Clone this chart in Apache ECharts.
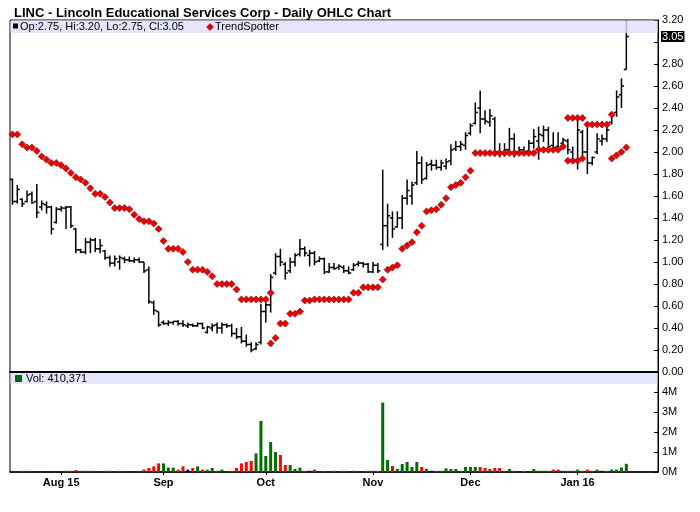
<!DOCTYPE html>
<html><head><meta charset="utf-8">
<script src="https://cdn.jsdelivr.net/npm/echarts@6/dist/echarts.min.js"></script>
<style>html,body{margin:0;padding:0;background:#fff}#c{width:700px;height:512px}</style>
</head><body><div id="c"></div>
<script>
const dates = [
'2015-07-20','2015-07-21','2015-07-22','2015-07-23','2015-07-24','2015-07-27','2015-07-28','2015-07-29','2015-07-30','2015-07-31',
'2015-08-03','2015-08-04','2015-08-05','2015-08-06','2015-08-07','2015-08-10','2015-08-11','2015-08-12','2015-08-13','2015-08-14','2015-08-17','2015-08-18','2015-08-19','2015-08-20','2015-08-21','2015-08-24','2015-08-25','2015-08-26','2015-08-27','2015-08-28','2015-08-31',
'2015-09-01','2015-09-02','2015-09-03','2015-09-04','2015-09-08','2015-09-09','2015-09-10','2015-09-11','2015-09-14','2015-09-15','2015-09-16','2015-09-17','2015-09-18','2015-09-21','2015-09-22','2015-09-23','2015-09-24','2015-09-25','2015-09-28','2015-09-29','2015-09-30',
'2015-10-01','2015-10-02','2015-10-05','2015-10-06','2015-10-07','2015-10-08','2015-10-09','2015-10-12','2015-10-13','2015-10-14','2015-10-15','2015-10-16','2015-10-19','2015-10-20','2015-10-21','2015-10-22','2015-10-23','2015-10-26','2015-10-27','2015-10-28','2015-10-29','2015-10-30',
'2015-11-02','2015-11-03','2015-11-04','2015-11-05','2015-11-06','2015-11-09','2015-11-10','2015-11-11','2015-11-12','2015-11-13','2015-11-16','2015-11-17','2015-11-18','2015-11-19','2015-11-20','2015-11-23','2015-11-24','2015-11-25','2015-11-27','2015-11-30',
'2015-12-01','2015-12-02','2015-12-03','2015-12-04','2015-12-07','2015-12-08','2015-12-09','2015-12-10','2015-12-11','2015-12-14','2015-12-15','2015-12-16','2015-12-17','2015-12-18','2015-12-21','2015-12-22','2015-12-23','2015-12-24','2015-12-28','2015-12-29','2015-12-30','2015-12-31',
'2016-01-04','2016-01-05','2016-01-06','2016-01-07','2016-01-08','2016-01-11','2016-01-12','2016-01-13','2016-01-14','2016-01-15','2016-01-19'];
const padDates = ['2016-01-20','2016-01-21','2016-01-22','2016-01-25','2016-01-26','2016-01-27'];

const opens = [
1.75,1.55,1.57,1.55,1.62,1.55,1.50,1.52,1.50,1.36,
1.48,1.49,1.50,1.30,1.11,1.09,1.18,1.20,1.12,1.10,
1.04,0.99,1.00,1.03,1.02,1.01,1.02,1.00,0.93,0.63,
0.55,0.45,0.44,0.45,0.46,0.44,0.42,0.43,0.42,0.44,
0.36,0.40,0.43,0.40,0.43,0.42,0.35,0.32,0.28,0.25,
0.21,0.27,0.55,0.61,0.90,1.05,0.98,0.92,1.00,1.07,
1.12,1.06,1.08,1.01,1.03,0.91,0.95,0.95,0.95,0.92,
0.93,0.98,0.99,0.98,0.91,0.97,1.16,1.33,1.40,1.32,
1.40,1.58,1.60,1.72,1.90,1.76,1.89,1.88,1.86,1.87,
1.92,2.03,2.05,2.06,2.17,2.26,2.40,2.30,2.27,2.30,
2.00,1.99,2.02,2.12,2.00,2.02,2.01,2.08,2.10,2.15,
2.20,2.06,2.05,2.08,2.10,2.00,1.92,2.18,2.00,1.90,
2.00,2.10,2.12,2.27,2.36,2.52,2.75];
const highs = [
1.76,1.70,1.58,1.65,1.64,1.71,1.56,1.55,1.51,1.50,
1.51,1.51,1.51,1.31,1.12,1.22,1.22,1.22,1.21,1.11,
1.06,1.06,1.06,1.05,1.05,1.04,1.04,1.00,0.96,0.65,
0.55,0.47,0.47,0.46,0.47,0.47,0.45,0.44,0.45,0.45,
0.42,0.44,0.45,0.45,0.44,0.44,0.40,0.41,0.34,0.27,
0.27,0.62,0.63,0.89,1.08,1.12,1.00,1.04,1.08,1.21,
1.14,1.11,1.10,1.05,1.04,0.99,0.99,0.98,0.97,0.96,
0.99,1.01,1.00,0.99,1.00,0.99,1.84,1.53,1.46,1.46,
1.61,1.75,1.73,2.01,1.96,1.91,1.93,1.93,1.93,1.94,
2.07,2.10,2.10,2.18,2.26,2.45,2.56,2.38,2.39,2.32,
2.08,2.08,2.22,2.17,2.05,2.05,2.11,2.21,2.23,2.24,
2.23,2.18,2.18,2.13,2.12,2.05,2.32,2.20,2.22,1.96,
2.17,2.16,2.23,2.35,2.56,2.67,3.20];
const lows = [
1.52,1.53,1.50,1.54,1.53,1.40,1.47,1.44,1.25,1.35,
1.46,1.30,1.31,1.08,1.08,1.07,1.08,1.09,1.08,1.02,
0.96,0.96,0.93,0.99,1.00,0.99,0.99,0.90,0.62,0.52,
0.41,0.43,0.42,0.43,0.42,0.41,0.40,0.41,0.41,0.39,
0.35,0.37,0.35,0.35,0.40,0.32,0.30,0.26,0.23,0.18,
0.20,0.25,0.45,0.54,0.88,0.96,0.84,0.90,0.96,1.05,
1.05,0.96,0.97,1.00,0.89,0.90,0.93,0.93,0.90,0.89,
0.92,0.96,0.95,0.90,0.90,0.90,1.11,1.14,1.22,1.31,
1.30,1.52,1.52,1.70,1.71,1.75,1.83,1.84,1.83,1.84,
1.88,2.01,2.01,2.02,2.15,2.25,2.17,2.25,2.23,1.96,
1.95,1.96,2.00,1.95,1.97,1.98,2.00,2.03,1.93,2.09,
2.02,2.02,2.01,2.07,1.98,1.90,1.84,1.96,1.80,1.88,
1.98,2.06,2.09,2.25,2.32,2.40,2.75];
const closes = [
1.55,1.66,1.53,1.61,1.54,1.45,1.53,1.50,1.30,1.48,
1.49,1.50,1.33,1.11,1.09,1.18,1.20,1.12,1.15,1.04,
0.99,1.03,1.04,1.02,1.01,1.02,1.00,0.92,0.64,0.56,
0.43,0.44,0.45,0.46,0.44,0.43,0.43,0.42,0.44,0.40,
0.41,0.42,0.40,0.43,0.42,0.35,0.32,0.28,0.25,0.20,
0.25,0.55,0.61,0.86,1.05,1.00,0.90,1.00,1.06,1.12,
1.08,1.08,1.00,1.03,0.91,0.95,0.94,0.96,0.92,0.90,
0.97,0.99,0.98,0.91,0.97,0.92,1.33,1.42,1.30,1.40,
1.58,1.65,1.70,1.90,1.75,1.88,1.88,1.86,1.90,1.91,
2.02,2.05,2.07,2.15,2.24,2.36,2.30,2.28,2.33,2.00,
1.98,2.02,2.12,2.00,2.02,2.00,2.08,2.14,2.16,2.20,
2.05,2.04,2.03,2.11,2.02,1.92,2.20,2.00,1.90,1.95,
2.12,2.12,2.20,2.33,2.50,2.60,3.05];
// volume, millions of shares
const volumes = [
0.015,0.015,0.06,0.06,0.015,0.015,0.015,0.015,0.015,0.015,
0.015,0.06,0.06,0.10,0.06,0.06,0.06,0.015,0.015,0.06,
0.06,0.015,0.06,0.015,0.015,0.015,0.015,0.12,0.20,0.28,
0.43,0.43,0.22,0.22,0.12,0.28,0.12,0.20,0.28,0.12,
0.12,0.20,0.06,0.12,0.015,0.06,0.20,0.43,0.50,0.55,
0.93,2.55,0.80,1.50,1.00,0.85,0.35,0.35,0.15,0.22,
0.06,0.06,0.12,0.015,0.06,0.015,0.06,0.015,0.06,0.015,
0.06,0.015,0.015,0.06,0.06,0.06,3.47,0.60,0.30,0.15,
0.40,0.50,0.25,0.50,0.25,0.15,0.06,0.06,0.06,0.18,
0.15,0.15,0.06,0.25,0.25,0.25,0.25,0.20,0.15,0.20,
0.20,0.06,0.15,0.06,0.015,0.06,0.015,0.15,0.06,0.06,
0.06,0.12,0.12,0.06,0.06,0.06,0.12,0.06,0.12,0.06,
0.12,0.06,0.06,0.12,0.12,0.22,0.410371];
const trendSpotter = [
2.16,2.16,2.07,2.04,2.04,2.01,1.96,1.93,1.90,1.90,
1.88,1.85,1.81,1.77,1.75,1.72,1.67,1.62,1.62,1.59,
1.54,1.49,1.49,1.49,1.48,1.43,1.39,1.37,1.37,1.35,
1.30,1.19,1.12,1.12,1.12,1.09,1.00,0.93,0.93,0.93,
0.91,0.87,0.80,0.80,0.80,0.80,0.75,0.66,0.66,0.66,
0.66,0.66,0.66,0.72,0.31,0.44,0.44,0.53,0.53,0.55,
0.65,0.65,0.66,0.66,0.66,0.66,0.66,0.66,0.66,0.66,
0.72,0.72,0.77,0.77,0.77,0.77,0.84,0.93,0.95,0.97,
1.12,1.15,1.18,1.27,1.33,1.46,1.47,1.48,1.52,1.58,
1.68,1.70,1.72,1.77,1.83,1.99,1.99,1.99,1.99,1.99,
1.99,1.99,1.99,1.99,1.99,1.99,1.99,1.99,2.02,2.02,
2.02,2.02,2.02,2.05,2.31,2.31,2.31,2.31,2.25,2.25,
2.25,2.25,2.25,2.34,1.97,2.00,2.04];
const trendAltDates = ['2015-10-02','2015-12-30','2015-12-31','2016-01-04','2016-01-05','2016-01-13'];
const trendAltValues = [0.26,1.92,1.92,1.92,1.94,1.94];
const tickDates = ['2015-08-03','2015-09-01','2015-10-01','2015-11-02','2015-12-01','2016-01-04'];
const tickLabels = ['Aug 15','Sep','Oct','Nov','Dec','Jan 16'];

const FONT = '"Liberation Sans", Arial, Helvetica, sans-serif';
const cats = dates.concat(padDates);
const n = dates.length;
const last = n - 1;
const lastClose = closes[last];
const tickIdx = tickDates.map(d => cats.indexOf(d));
const isTick = i => tickIdx.indexOf(i) >= 0;
const c100 = v => Math.round(v * 100);
function volColor(i) {
  if (i === 0) return '#006f00';
  const d = c100(closes[i]) - c100(closes[i - 1]);
  return d > 0 ? '#006f00' : (d < 0 ? '#ff0000' : '#000080');
}

const chart = echarts.init(document.getElementById('c'), null, {renderer: 'canvas'});
const ohlcData = dates.map((d, i) => [i, opens[i], highs[i], lows[i], closes[i]]);
const fmt = v => v.toFixed(2);
const legendText = 'Op:' + fmt(opens[last]) + ', Hi:' + fmt(highs[last]) + ', Lo:' + fmt(lows[last]) + ', Cl:' + fmt(closes[last]);
const volText = 'Vol: ' + Math.round(volumes[last] * 1e6).toLocaleString('en-US');

chart.setOption({
  animation: false,
  backgroundColor: '#fff',
  title: {
    text: 'LINC - Lincoln Educational Services Corp - Daily OHLC Chart',
    left: 9, top: 2,
    textStyle: {fontFamily: FONT, fontSize: 13, fontWeight: 'bold', color: '#000'}
  },
  grid: [
    {left: 10, right: 42, top: 20, height: 352, show: true, borderColor: '#000', borderWidth: 1},
    {left: 10, right: 42, top: 372, height: 100, show: true, borderColor: '#000', borderWidth: 1}
  ],
  xAxis: [
    {type: 'category', gridIndex: 0, data: cats, boundaryGap: true,
     axisLine: {show: true, lineStyle: {color: '#000', width: 2}},
     axisTick: {show: false}, axisLabel: {show: false}, splitLine: {show: false}},
    {type: 'category', gridIndex: 1, data: cats, boundaryGap: true,
     axisLine: {show: true, lineStyle: {color: '#000', width: 1.5}},
     axisTick: {show: true, alignWithLabel: true, length: 3, interval: (i) => isTick(i), lineStyle: {color: '#000'}},
     axisLabel: {interval: (i) => isTick(i), margin: 5,
       formatter: (v, i) => { const k = tickIdx.indexOf(i); return k >= 0 ? tickLabels[k] : ''; },
       fontFamily: FONT, fontSize: 11, fontWeight: 'bold', color: '#000'},
     splitLine: {show: false}}
  ],
  yAxis: [
    {type: 'value', gridIndex: 0, position: 'right', min: 0, max: 3.2, interval: 0.2,
     axisLine: {show: true, lineStyle: {color: '#000'}},
     axisTick: {show: true, inside: true, length: 4, lineStyle: {color: '#000'}},
     axisLabel: {margin: 4, fontFamily: FONT, fontSize: 11, color: '#000',
       formatter: v => Math.abs(v - lastClose) < 0.1 ? '' : v.toFixed(2)},
     splitLine: {show: false}},
    {type: 'value', gridIndex: 1, position: 'right', min: 0, max: 5, interval: 1,
     axisLine: {show: true, lineStyle: {color: '#000'}},
     axisTick: {show: true, inside: true, length: 4, lineStyle: {color: '#000'}},
     axisLabel: {margin: 4, fontFamily: FONT, fontSize: 11, color: '#000',
       formatter: v => v >= 5 ? '' : v + 'M'},
     splitLine: {show: false}}
  ],
  series: [
    {
      type: 'custom', name: 'OHLC', xAxisIndex: 0, yAxisIndex: 0,
      data: ohlcData, encode: {x: 0, y: [1, 2, 3, 4]}, z: 3,
      renderItem: (params, api) => {
        const x = api.value(0);
        const pH = api.coord([x, api.value(2)]);
        const pL = api.coord([x, api.value(3)]);
        const pO = api.coord([x, api.value(1)]);
        const pC = api.coord([x, api.value(4)]);
        const cx = pH[0];
        const st = {stroke: '#000', lineWidth: 1.5};
        return {type: 'group', children: [
          {type: 'line', shape: {x1: cx, y1: pH[1], x2: cx, y2: pL[1]}, style: st},
          {type: 'line', shape: {x1: cx - 2.6, y1: pO[1], x2: cx, y2: pO[1]}, style: st},
          {type: 'line', shape: {x1: cx, y1: pC[1], x2: cx + 2.6, y2: pC[1]}, style: st}
        ]};
      }
    },
    {
      type: 'scatter', name: 'TrendSpotter', xAxisIndex: 0, yAxisIndex: 0, z: 4,
      data: trendSpotter.map((v, i) => [i, v]),
      symbol: 'diamond', symbolSize: 7,
      itemStyle: {color: '#ee0000', borderColor: '#7a0000', borderWidth: 0.6, opacity: 1}
    },
    {
      type: 'scatter', name: 'TrendSpotter2', xAxisIndex: 0, yAxisIndex: 0, z: 4,
      data: trendAltDates.map((d, k) => [d, trendAltValues[k]]),
      symbol: 'diamond', symbolSize: 7,
      itemStyle: {color: '#ee0000', borderColor: '#7a0000', borderWidth: 0.6, opacity: 1}
    },
    {
      type: 'bar', name: 'Volume', xAxisIndex: 1, yAxisIndex: 1, barWidth: 3,
      data: volumes.map((v, i) => ({value: v, itemStyle: {color: volColor(i)}}))
    }
  ]
});

const yLast = chart.convertToPixel({yAxisIndex: 0}, lastClose);

chart.setOption({
  graphic: [
    {type: 'rect', z: 50, shape: {x: 10.5, y: 20.5, width: 647, height: 12.5}, style: {fill: 'rgba(222,222,250,0.8)'}},
    {type: 'rect', z: 51, shape: {x: 13, y: 23.5, width: 5, height: 5}, style: {fill: '#000'}},
    {type: 'text', z: 51, x: 20, y: 27, style: {text: legendText, font: '11px ' + FONT, fill: '#000', verticalAlign: 'middle'}},
    {type: 'polygon', z: 51, shape: {points: [[210, 23.5], [213.5, 27], [210, 30.5], [206.5, 27]]}, style: {fill: '#ee0000', stroke: '#7a0000', lineWidth: 0.5}},
    {type: 'text', z: 51, x: 215, y: 27, style: {text: 'TrendSpotter', font: '11px ' + FONT, fill: '#000', verticalAlign: 'middle'}},
    {type: 'rect', z: 50, shape: {x: 10.5, y: 373, width: 647, height: 11}, style: {fill: 'rgba(222,222,250,0.8)'}},
    {type: 'rect', z: 51, shape: {x: 15.5, y: 375.5, width: 6, height: 6}, style: {fill: '#006f00', stroke: '#000', lineWidth: 0.6}},
    {type: 'text', z: 51, x: 26, y: 379, style: {text: volText, font: '11px ' + FONT, fill: '#000', verticalAlign: 'middle'}},
    {type: 'text', z: 60, x: 661, y: yLast, style: {text: fmt(lastClose), font: '11px ' + FONT, fill: '#fff', backgroundColor: '#000', padding: [0, 1], verticalAlign: 'middle'}}
  ]
});
</script></body></html>
